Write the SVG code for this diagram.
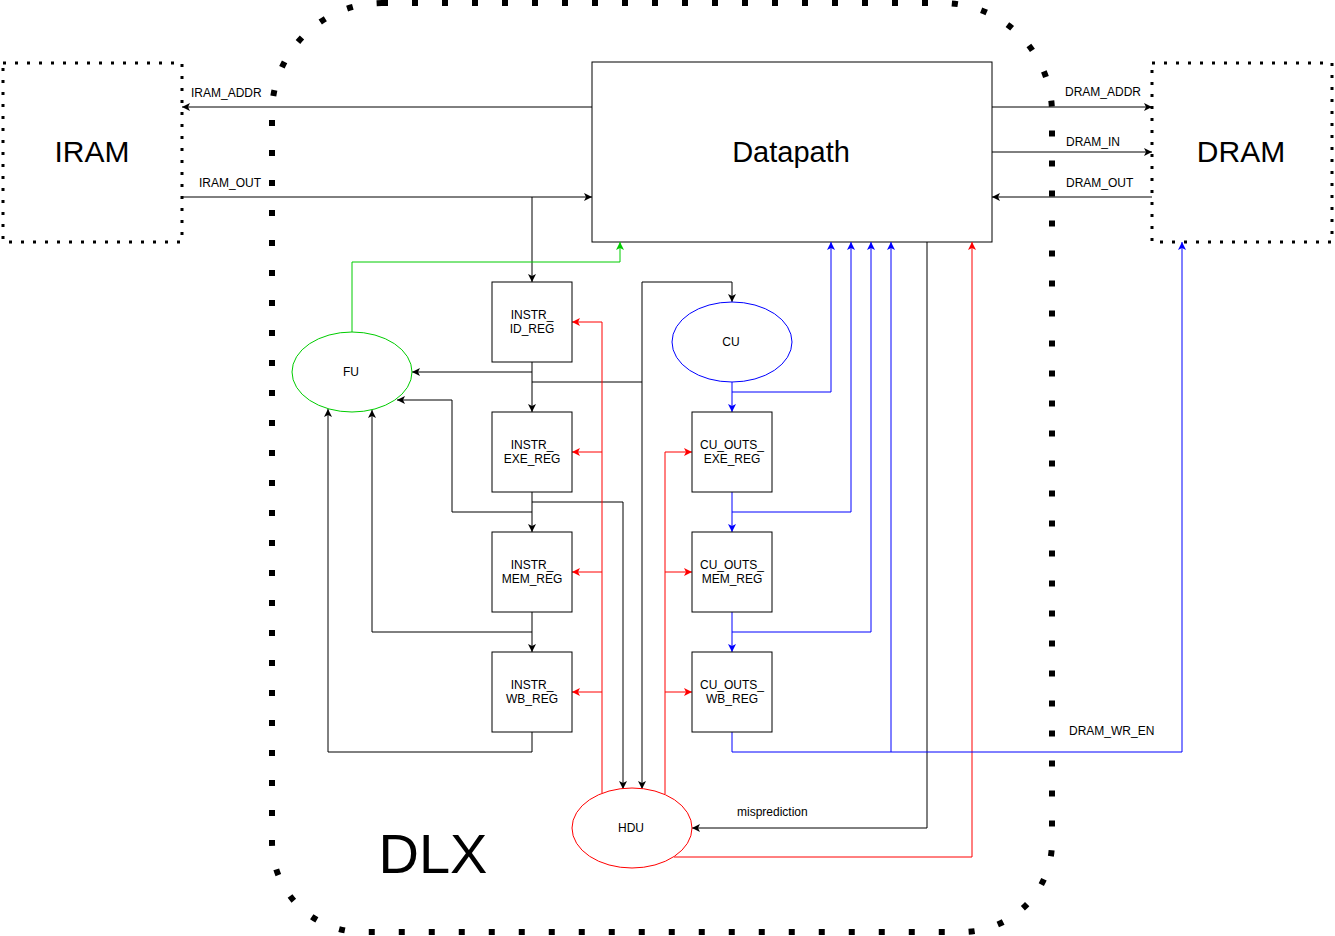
<svg xmlns="http://www.w3.org/2000/svg" width="1335" height="936" viewBox="0 0 1335 936">
<style>
text{font-family:"Liberation Sans",Arial,sans-serif;fill:#000}
.box{fill:#fff;stroke:#000;stroke-width:1}
.mem{fill:none;stroke:#000;stroke-width:3;stroke-dasharray:3 9}
.lbl{font-size:12px}
.reg{font-size:12px;text-anchor:middle}
.k{fill:none;stroke:#000;stroke-width:1;marker-end:url(#ak)}
.kn{fill:none;stroke:#000;stroke-width:1}
.b{fill:none;stroke:#0000FF;stroke-width:1;marker-end:url(#ab)}
.bn{fill:none;stroke:#0000FF;stroke-width:1}
.r{fill:none;stroke:#FF0000;stroke-width:1;marker-end:url(#ar)}
.g{fill:none;stroke:#00CC00;stroke-width:1;marker-end:url(#ag)}
</style>
<defs>
<marker id="ak" markerUnits="userSpaceOnUse" markerWidth="10" markerHeight="10" refX="8" refY="4" orient="auto"><path d="M0,0 L8,4 L0,8 L2,4 Z" fill="#000"/></marker>
<marker id="ab" markerUnits="userSpaceOnUse" markerWidth="10" markerHeight="10" refX="8" refY="4" orient="auto"><path d="M0,0 L8,4 L0,8 L2,4 Z" fill="#0000FF"/></marker>
<marker id="ar" markerUnits="userSpaceOnUse" markerWidth="10" markerHeight="10" refX="8" refY="4" orient="auto"><path d="M0,0 L8,4 L0,8 L2,4 Z" fill="#FF0000"/></marker>
<marker id="ag" markerUnits="userSpaceOnUse" markerWidth="10" markerHeight="10" refX="8" refY="4" orient="auto"><path d="M0,0 L8,4 L0,8 L2,4 Z" fill="#00CC00"/></marker>
</defs>
<rect width="1335" height="936" fill="#fff"/>

<g id="dlx">
<path d="M382 3 H942 A110 110 0 0 1 1052 113 V842 A90 90 0 0 1 962 932 H362 A90 90 0 0 1 272 842 V113 A110 110 0 0 1 382 3 Z" fill="none" stroke="#000" stroke-width="6" stroke-dasharray="6 24"/>
<text x="433" y="873" font-size="56" text-anchor="middle">DLX</text>
</g>

<g id="iram">
<rect class="mem" x="3" y="63" width="179" height="179"/>
<text x="92" y="162" font-size="30" text-anchor="middle">IRAM</text>
</g>
<g id="dram">
<rect class="mem" x="1152" y="63" width="180" height="179"/>
<text x="1241" y="162" font-size="30" text-anchor="middle">DRAM</text>
</g>
<g id="datapath">
<rect class="box" x="592" y="62" width="400" height="180"/>
<text x="791" y="162" font-size="29" text-anchor="middle">Datapath</text>
</g>

<g id="connectors">
<path class="k" d="M592,107 H182"/>
<path class="k" d="M182,197 H592"/>
<path class="k" d="M532,197 V282"/>
<path class="k" d="M992,107 H1152"/>
<path class="k" d="M992,152 H1152"/>
<path class="k" d="M1152,197 H992"/>
<path class="k" d="M532,362 V412"/>
<path class="k" d="M532,372 H412"/>
<path class="k" d="M532,382 H642 V282 H732 V302"/>
<path class="k" d="M642,382 V789"/>
<path class="k" d="M532,492 V532"/>
<path class="k" d="M532,512 H452 V400 H397"/>
<path class="k" d="M532,502 H623 V789"/>
<path class="k" d="M532,612 V652"/>
<path class="k" d="M532,632 H372 V410"/>
<path class="k" d="M532,732 V752 H328 V409"/>
<path class="k" d="M927,242 V828 H692"/>
<path class="g" d="M352,332 V262 H620 V242"/>
<path class="r" d="M602,793 V322 H572"/>
<path class="r" d="M602,452 H572"/>
<path class="r" d="M602,572 H572"/>
<path class="r" d="M602,692 H572"/>
<path class="r" d="M665,794 V452 H692"/>
<path class="r" d="M665,572 H692"/>
<path class="r" d="M665,692 H692"/>
<path class="r" d="M674,857 H972 V242"/>
<path class="b" d="M732,382 V412"/>
<path class="b" d="M732,392 H831 V242"/>
<path class="b" d="M732,492 V532"/>
<path class="b" d="M732,512 H851 V242"/>
<path class="b" d="M732,612 V652"/>
<path class="b" d="M732,632 H871 V242"/>
<path class="b" d="M732,732 V752 H1182 V242"/>
<path class="b" d="M891,752 V242"/>
<text class="lbl" x="191" y="97">IRAM_ADDR</text>
<text class="lbl" x="199" y="187">IRAM_OUT</text>
<text class="lbl" x="1065" y="96">DRAM_ADDR</text>
<text class="lbl" x="1066" y="146">DRAM_IN</text>
<text class="lbl" x="1066" y="187">DRAM_OUT</text>
<text class="lbl" x="1069" y="735">DRAM_WR_EN</text>
<text class="lbl" x="737" y="816">misprediction</text>
</g>

<g id="instr_id_reg"><rect class="box" x="492" y="282" width="80" height="80"/><text class="reg" x="532" y="319">INSTR_</text><text class="reg" x="532" y="333">ID_REG</text></g>
<g id="instr_exe_reg"><rect class="box" x="492" y="412" width="80" height="80"/><text class="reg" x="532" y="449">INSTR_</text><text class="reg" x="532" y="463">EXE_REG</text></g>
<g id="instr_mem_reg"><rect class="box" x="492" y="532" width="80" height="80"/><text class="reg" x="532" y="569">INSTR_</text><text class="reg" x="532" y="583">MEM_REG</text></g>
<g id="instr_wb_reg"><rect class="box" x="492" y="652" width="80" height="80"/><text class="reg" x="532" y="689">INSTR_</text><text class="reg" x="532" y="703">WB_REG</text></g>

<g id="cu_outs_exe_reg"><rect class="box" x="692" y="412" width="80" height="80"/><text class="reg" x="732" y="449">CU_OUTS_</text><text class="reg" x="732" y="463">EXE_REG</text></g>
<g id="cu_outs_mem_reg"><rect class="box" x="692" y="532" width="80" height="80"/><text class="reg" x="732" y="569">CU_OUTS_</text><text class="reg" x="732" y="583">MEM_REG</text></g>
<g id="cu_outs_wb_reg"><rect class="box" x="692" y="652" width="80" height="80"/><text class="reg" x="732" y="689">CU_OUTS_</text><text class="reg" x="732" y="703">WB_REG</text></g>

<g id="cu"><ellipse cx="732" cy="342" rx="60" ry="40" fill="#fff" stroke="#0000FF"/><text class="reg" x="731" y="346">CU</text></g>
<g id="fu"><ellipse cx="352" cy="372" rx="60" ry="40" fill="#fff" stroke="#00CC00"/><text class="reg" x="351" y="376">FU</text></g>
<g id="hdu"><ellipse cx="632" cy="828" rx="60" ry="40" fill="#fff" stroke="#FF0000"/><text class="reg" x="631" y="832">HDU</text></g>
</svg>
